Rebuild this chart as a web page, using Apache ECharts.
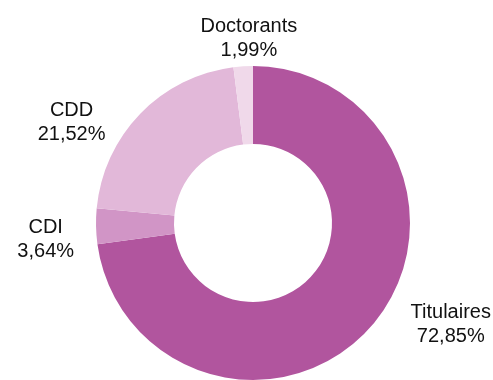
<!DOCTYPE html>
<html>
<head>
<meta charset="utf-8">
<script src="https://cdn.jsdelivr.net/npm/echarts@6/dist/echarts.min.js"></script>
<style>
    html, body { margin: 0; padding: 0; background: #fff; }
    #chart { width: 493px; height: 380px; }
</style>
</head>
<body>
<div id="chart"></div>
<script>
// categories and shares (%), clockwise from 12 o'clock
let names = ["Titulaires", "CDI", "CDD", "Doctorants"];
let shares = [72.85, 3.64, 21.52, 1.99];
let colour = ["#b1559e", "#d195c6", "#e2b8d9", "#f0d9ea"];

// small nudges of the labels from where echarts puts them
let labelNudge = [[-7, -12], [28, 13], [11, 19], [90, -13]];

let myChart = echarts.init(document.getElementById("chart"), null, { renderer: "canvas" });

let data = [];
for (let [i, share] of shares.entries())
{
    data.push({
        name: names[i],
        value: share,
        itemStyle: { color: colour[i] }
    });
}

let option = {
    animation: false,
    series: [
        {
            type: "pie",
            center: [253, 223],
            radius: [79, 157],
            startAngle: 90,
            clockwise: true,
            avoidLabelOverlap: false,
            itemStyle: { borderWidth: 0 },
            label: {
                show: true,
                position: "outside",
                fontFamily: "Liberation Sans, Arial, sans-serif",
                fontSize: 20,
                lineHeight: 24,
                color: "#111",
                formatter: function(p)
                {
                    return p.name + "\n" + p.value.toFixed(2).replace(".", ",") + "%";
                }
            },
            labelLine: { show: false },
            labelLayout: function(params)
            {
                let r = params.labelRect;
                let n = labelNudge[params.dataIndex];
                return {
                    x: r.x + r.width / 2 + n[0],
                    y: r.y + r.height / 2 + n[1],
                    align: "center",
                    verticalAlign: "middle"
                };
            },
            emphasis: { disabled: true },
            data: data
        }
    ]
};
myChart.setOption(option);
</script>
</body>
</html>
